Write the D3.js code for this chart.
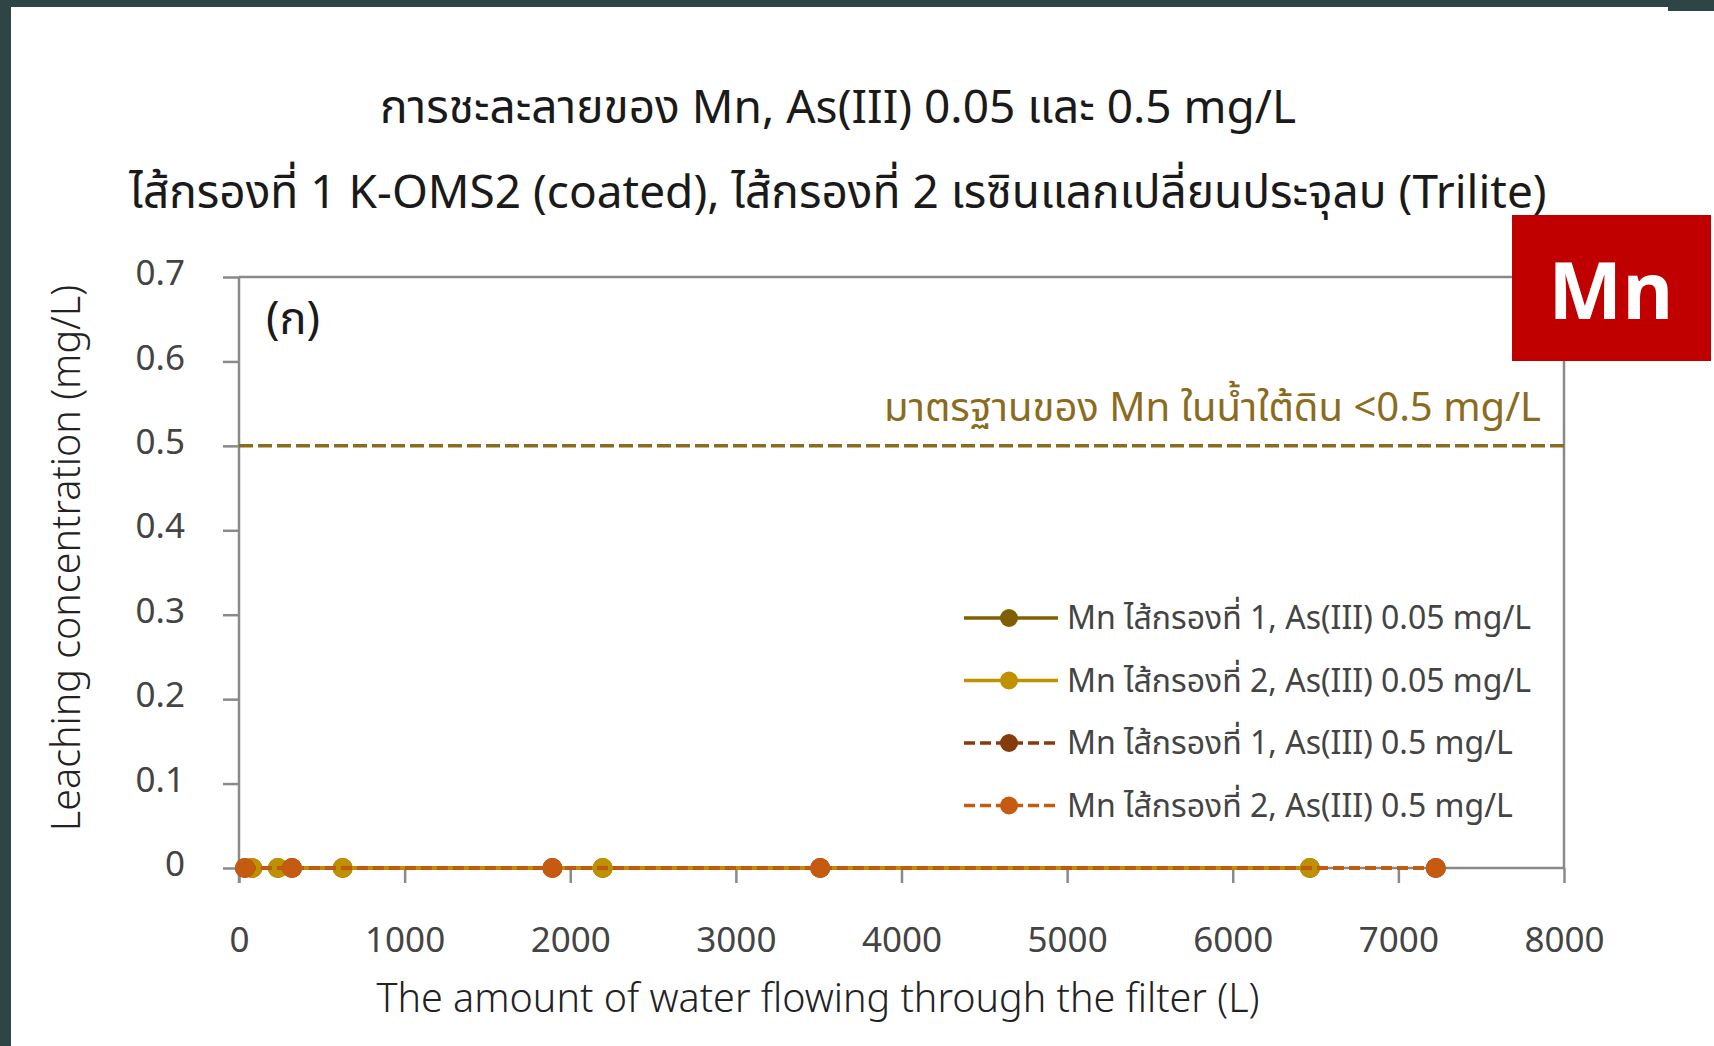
<!DOCTYPE html>
<html>
<head>
<meta charset="utf-8">
<script src="https://cdn.jsdelivr.net/npm/d3@7"></script>
<style>
  html, body { margin: 0; padding: 0; background: #ffffff; }
  svg { display: block; }
  text { font-family: "Noto Sans Thai", "Noto Sans", "Open Sans", sans-serif; }
</style>
</head>
<body>
<script>
// Leached Mn concentration versus volume of water passed through the filters
const titleLines = [
  "การชะละลายของ Mn, As(III) 0.05 และ 0.5 mg/L",
  "ไส้กรองที่ 1 K-OMS2 (coated), ไส้กรองที่ 2 เรซินแลกเปลี่ยนประจุลบ (Trilite)"
];
const xTicks = [0, 1000, 2000, 3000, 4000, 5000, 6000, 7000, 8000];
const yTicks = [0, 0.1, 0.2, 0.3, 0.4, 0.5, 0.6, 0.7];
const seriesNames = [
  "Mn ไส้กรองที่ 1, As(III) 0.05 mg/L",
  "Mn ไส้กรองที่ 2, As(III) 0.05 mg/L",
  "Mn ไส้กรองที่ 1, As(III) 0.5 mg/L",
  "Mn ไส้กรองที่ 2, As(III) 0.5 mg/L"
];
// volume of water (L) at each sampling point
const volFilter1As005 = [80, 235, 626, 2196, 6466];
const volFilter2As005 = [80, 235, 626, 2196, 6466];
const volFilter1As05 = [36, 320, 1892, 3509, 7226];
const volFilter2As05 = [36, 320, 1892, 3509, 7226];
// measured Mn concentration (mg/L)
const mnFilter1As005 = [0, 0, 0, 0, 0];
const mnFilter2As005 = [0, 0, 0, 0, 0];
const mnFilter1As05 = [0, 0, 0, 0, 0];
const mnFilter2As05 = [0, 0, 0, 0, 0];
const standardLimit = 0.5;
const standardLabel = "มาตรฐานของ Mn ในน้ำใต้ดิน <0.5 mg/L";
const panelLabel = "(ก)";
const badgeLabel = "Mn";
const xTitle = "The amount of water flowing through the filter (L)";
const yTitle = "Leaching concentration (mg/L)";

const colors = ["#7f6000", "#bf9000", "#843c0c", "#c55a11"];
const dashes = [null, null, "11,5", "11,5"];
const seriesX = [volFilter1As005, volFilter2As005, volFilter1As05, volFilter2As05];
const seriesY = [mnFilter1As005, mnFilter2As005, mnFilter1As05, mnFilter2As05];

const W = 1714, H = 1046;
const svg = d3.select("body").append("svg").attr("width", W).attr("height", H);

// page frame
svg.append("rect").attr("width", W).attr("height", H).attr("fill", "#ffffff");
const frame = "#2f4444";
svg.append("rect").attr("x", 0).attr("y", 0).attr("width", W).attr("height", 7).attr("fill", frame);
svg.append("rect").attr("x", 0).attr("y", 0).attr("width", 11).attr("height", H).attr("fill", frame);
svg.append("rect").attr("x", 1668).attr("y", 0).attr("width", W - 1668).attr("height", 11).attr("fill", frame);

const x = d3.scaleLinear().domain([0, 8000]).range([239, 1564]);
const y = d3.scaleLinear().domain([0, 0.7]).range([868, 277]);
const axisColor = "#8a8a8a";

// titles
svg.selectAll("text.title").data(titleLines).join("text")
  .attr("class", "title")
  .attr("x", 838)
  .attr("y", (d, i) => 123 + i * 85)
  .attr("text-anchor", "middle")
  .attr("font-size", 46)
  .attr("fill", "#1a1a1a")
  .text(d => d);

// axes
const gx = svg.append("g").attr("transform", `translate(0,${y(0)})`)
  .call(d3.axisBottom(x).tickValues(xTicks).tickSize(15).tickPadding(44).tickFormat(d3.format("d")));
const gy = svg.append("g").attr("transform", `translate(${x(0)},0)`)
  .call(d3.axisLeft(y).tickValues(yTicks).tickSize(16).tickPadding(38)
    .tickFormat(d => d === 0 ? "0" : d3.format(".1f")(d)));
[gx, gy].forEach(g => {
  g.select(".domain").attr("stroke", axisColor).attr("stroke-width", 2.5);
  g.selectAll(".tick line").attr("stroke", axisColor).attr("stroke-width", 2.5);
  g.selectAll(".tick text").attr("fill", "#444").attr("font-size", 35)
    .style("font-family", "'Noto Sans', sans-serif");
});
gy.selectAll(".tick text").attr("dy", "0.22em");
gx.select(".domain").attr("d", `M${x(0)},0H${x(8000)}`);
gy.select(".domain").attr("d", `M0,${y(0.7)}V${y(0) + 15}`);
// top and right borders of plot area
svg.append("line").attr("x1", x(0)).attr("x2", x(8000)).attr("y1", y(0.7)).attr("y2", y(0.7))
  .attr("stroke", axisColor).attr("stroke-width", 2.5);
svg.append("line").attr("x1", x(8000)).attr("x2", x(8000)).attr("y1", y(0.7)).attr("y2", y(0))
  .attr("stroke", axisColor).attr("stroke-width", 2.5);

// axis titles
svg.append("text").attr("x", 818).attr("y", 1012).attr("text-anchor", "middle")
  .attr("font-size", 39.5).attr("font-weight", 300).attr("fill", "#222").text(xTitle);
svg.append("text").attr("transform", "translate(80,558) rotate(-90)").attr("text-anchor", "middle")
  .attr("font-size", 39.5).attr("font-weight", 300).attr("fill", "#222").text(yTitle);

// panel label
svg.append("text").attr("x", 266).attr("y", 334).attr("font-size", 45).attr("fill", "#1a1a1a").text(panelLabel);

// groundwater standard
svg.append("line").attr("x1", x(0)).attr("x2", x(8000)).attr("y1", y(standardLimit)).attr("y2", y(standardLimit))
  .attr("stroke", "#8b6c1e").attr("stroke-width", 3.5).attr("stroke-dasharray", "14,5");
svg.append("text").attr("x", 1541).attr("y", 421).attr("text-anchor", "end")
  .attr("font-size", 40).attr("fill", "#8b6c1e").text(standardLabel);

// series lines and markers
const line = d3.line().x(d => x(d[0])).y(d => y(d[1]));
seriesX.forEach((xs, i) => {
  const pts = xs.map((v, j) => [v, seriesY[i][j]]);
  svg.append("path").datum(pts).attr("d", line).attr("fill", "none")
    .attr("stroke", colors[i]).attr("stroke-width", 3.5)
    .attr("stroke-dasharray", dashes[i]);
  svg.append("g").selectAll("circle").data(pts).join("circle")
    .attr("cx", d => x(d[0])).attr("cy", d => y(d[1])).attr("r", 10)
    .attr("fill", colors[i]);
});

// legend
const legend = svg.append("g");
seriesNames.forEach((name, i) => {
  const cy = 618 + i * 62.5;
  legend.append("line").attr("x1", 964).attr("x2", 1058).attr("y1", cy).attr("y2", cy)
    .attr("stroke", colors[i]).attr("stroke-width", 3.5).attr("stroke-dasharray", dashes[i]);
  legend.append("circle").attr("cx", 1009).attr("cy", cy).attr("r", 9).attr("fill", colors[i]);
  legend.append("text").attr("x", 1067).attr("y", cy + 11).attr("font-size", 32)
    .attr("fill", "#444").text(name);
});

// element badge
svg.append("rect").attr("x", 1512).attr("y", 215).attr("width", 199).attr("height", 146).attr("fill", "#c00000");
svg.append("text").attr("x", 1611).attr("y", 319).attr("text-anchor", "middle")
  .attr("font-size", 78).attr("font-weight", 700).attr("fill", "#ffffff").text(badgeLabel);
</script>
</body>
</html>
